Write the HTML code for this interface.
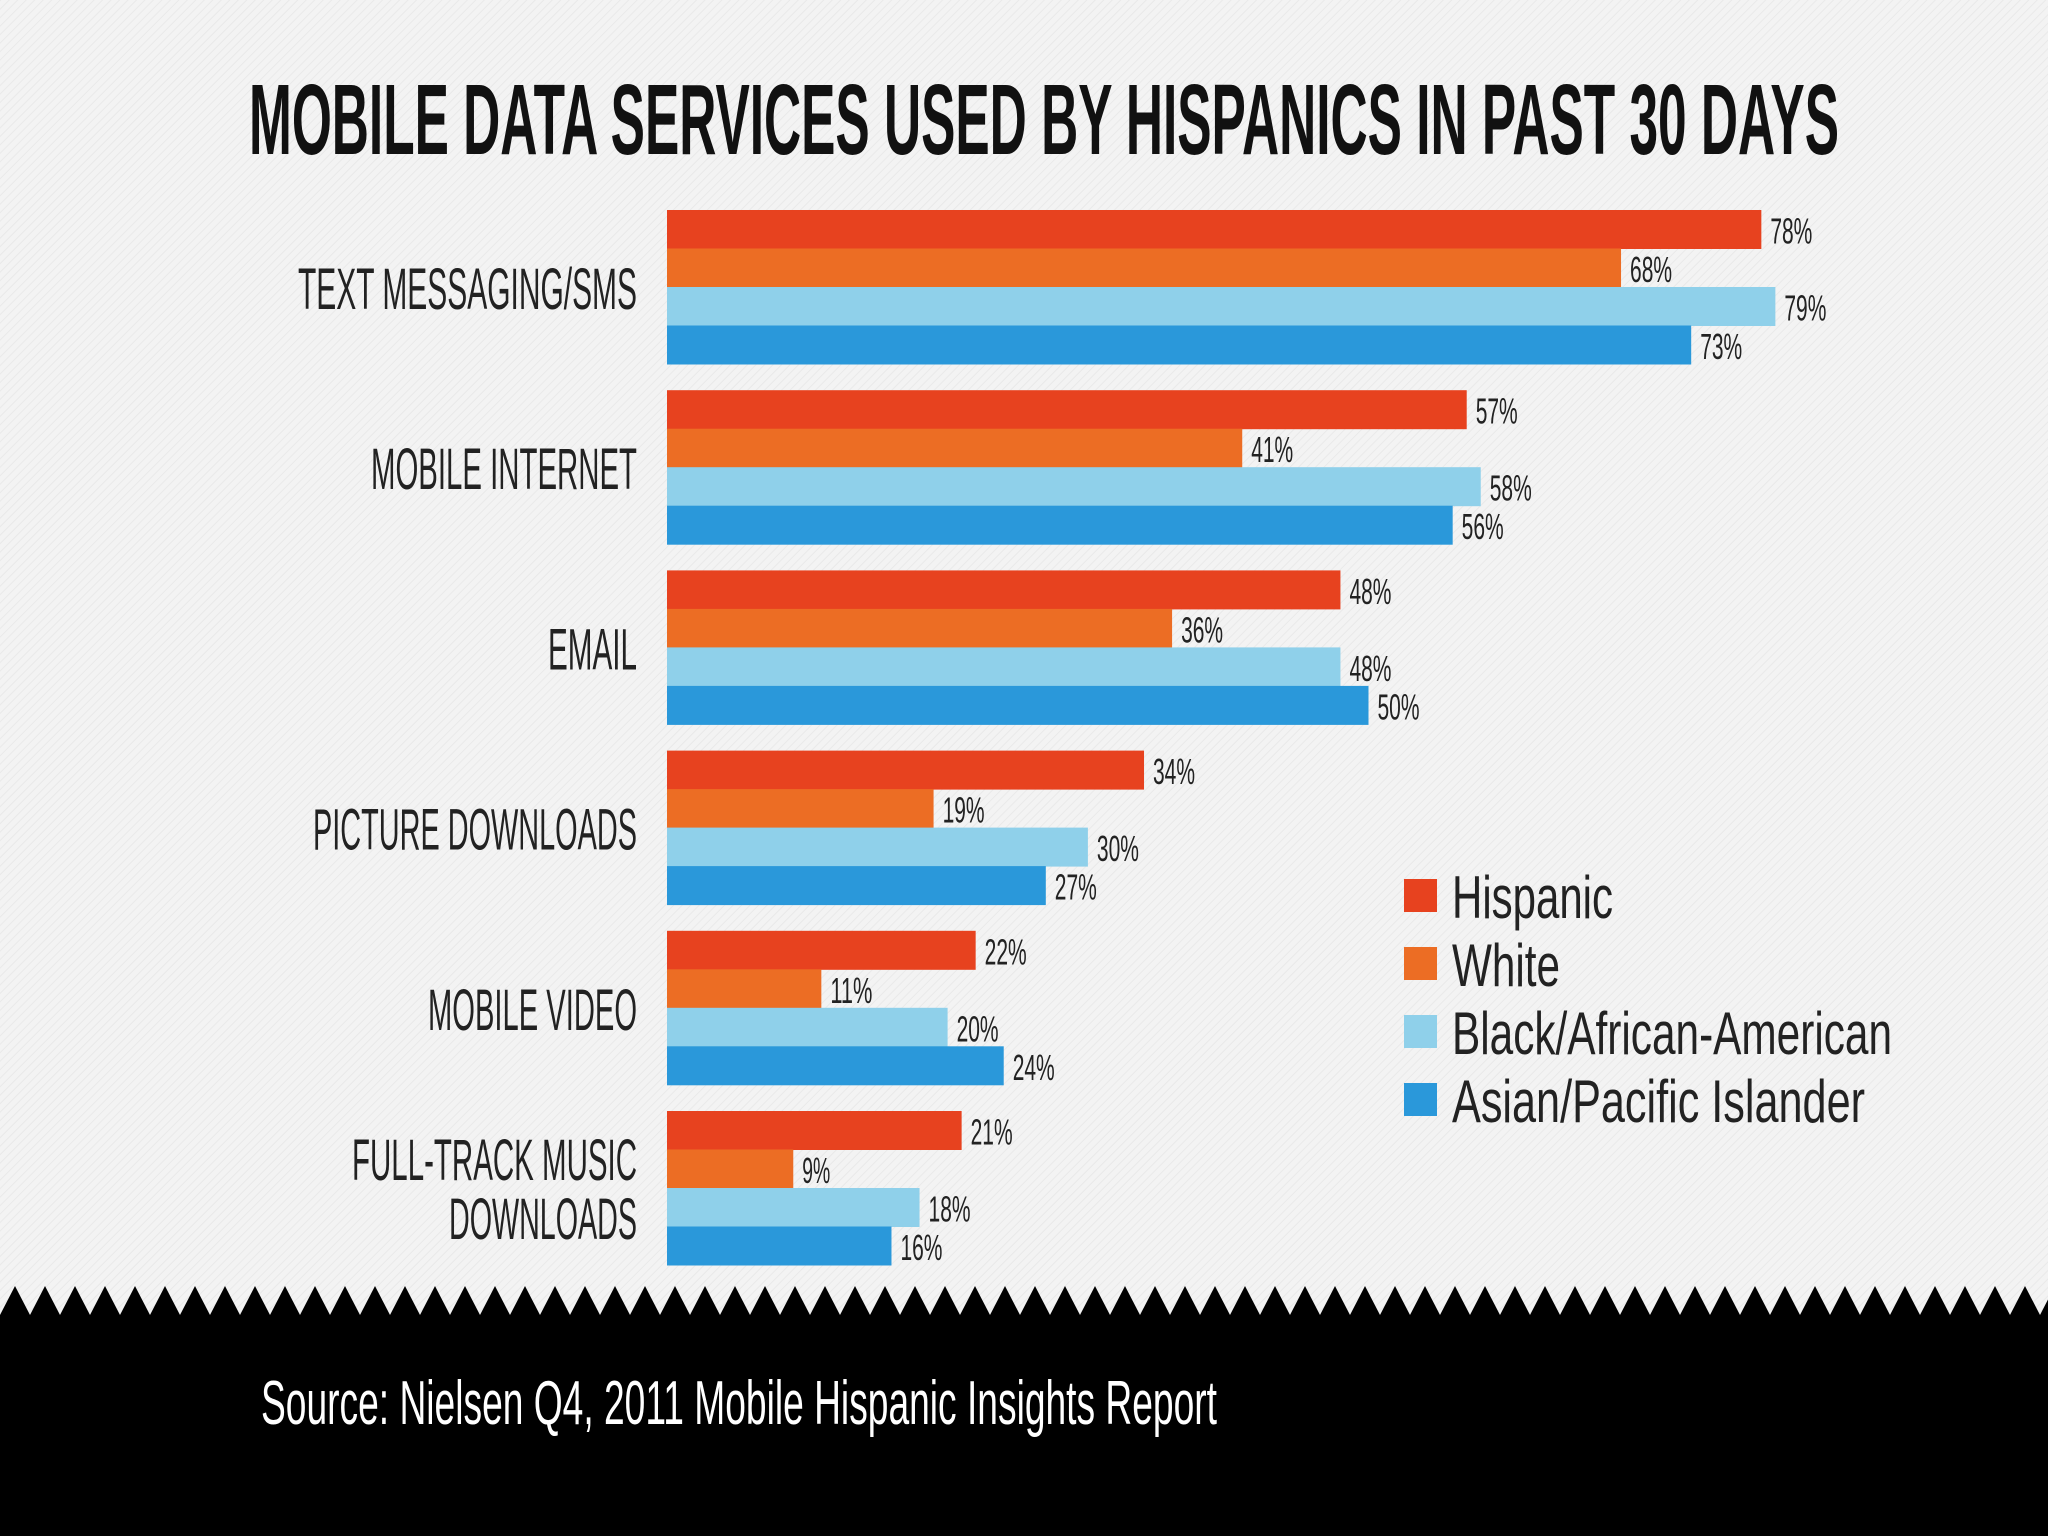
<!DOCTYPE html>
<html><head><meta charset="utf-8"><style>
html,body{margin:0;padding:0;background:#f1f1f1;}
svg{display:block;}
text{font-family:"Liberation Sans Narrow","Liberation Sans",sans-serif;}
</style></head><body>
<svg id="chart" width="2048" height="1536" viewBox="0 0 2048 1536" xmlns="http://www.w3.org/2000/svg">
<defs>
<pattern id="hatch" width="6" height="6" patternUnits="userSpaceOnUse" patternTransform="rotate(45)">
<rect width="6" height="6" fill="#f3f3f3"/><line x1="0" y1="0" x2="0" y2="6" stroke="#e9e9e9" stroke-width="2"/>
</pattern>
</defs>
<rect x="0" y="0" width="2048" height="1536" fill="url(#hatch)"/>
<text x="249" y="154" font-size="100" font-weight="bold" fill="#111" textLength="1590" lengthAdjust="spacingAndGlyphs">MOBILE DATA SERVICES USED BY HISPANICS IN PAST 30 DAYS</text>
<g id="bars"></g>
<g id="labels"></g>
<g id="legend"></g>
<path id="footer" fill="#000"/>
<text x="261" y="1424" font-size="62" fill="#fff" textLength="956" lengthAdjust="spacingAndGlyphs">Source: Nielsen Q4, 2011 Mobile Hispanic Insights Report</text>
</svg>
<script>
const categories = ["TEXT MESSAGING/SMS","MOBILE INTERNET","EMAIL","PICTURE DOWNLOADS","MOBILE VIDEO","FULL-TRACK MUSIC DOWNLOADS"];
const seriesNames = ["Hispanic","White","Black/African-American","Asian/Pacific Islander"];
const hispanic = [78,57,48,34,22,21];
const white = [68,41,36,19,11,9];
const black = [79,58,48,30,20,18];
const asian = [73,56,50,27,24,16];
const series = [hispanic, white, black, asian];
const colors = ["#e7421f","#ec6d24","#8fd0ea","#2a98da"];

const NS = "http://www.w3.org/2000/svg";
const x0 = 667, pxPerPct = 14.03;
const groupTop0 = 210, groupPitch = 180.2, barH = 38.5;
function xScale(v){ return x0 + v * pxPerPct; }
function groupY(i){ return groupTop0 + i * groupPitch; }
function mk(tag, attrs){ const e = document.createElementNS(NS, tag); for (const k in attrs) e.setAttribute(k, attrs[k]); return e; }

const bars = document.getElementById('bars');
categories.forEach((c, ci) => {
  series.forEach((s, si) => {
    const y = groupY(ci) + si * barH;
    const r = mk('rect', {x: x0, y: y, width: xScale(s[ci]) - x0, height: barH + 0.5, fill: colors[si]});
    
    
    bars.appendChild(r);
    const label = s[ci] + '%';
    const t = mk('text', {x: xScale(s[ci]) + 9, y: y + barH - 5, 'font-size': 36, fill: '#222', textLength: label.length * 14, lengthAdjust: 'spacingAndGlyphs'});
    t.textContent = label;
    
    
    bars.appendChild(t);
  });
});

const labelW = [339, 266, 89, 324, 209];
const labels = document.getElementById('labels');
categories.forEach((c, ci) => {
  const mid = groupY(ci) + 2 * barH;
  if (ci < 5) {
    const t = mk('text', {x: 637, y: mid + 22, 'font-size': 58, fill: '#222', 'text-anchor': 'end', textLength: labelW[ci], lengthAdjust: 'spacingAndGlyphs'});
    t.textContent = c;
    
    
    labels.appendChild(t);
  } else {
    const parts = ["FULL-TRACK MUSIC", "DOWNLOADS"], w = [285, 188];
    parts.forEach((p, pi) => {
      const t = mk('text', {x: 637, y: mid - 8 + pi * 59, 'font-size': 58, fill: '#222', 'text-anchor': 'end', textLength: w[pi], lengthAdjust: 'spacingAndGlyphs'});
      t.textContent = p;
      
      
      labels.appendChild(t);
    });
  }
});

const legW = [161, 108, 440, 413];
const legend = document.getElementById('legend');
seriesNames.forEach((n, i) => {
  const cy = 896 + i * 68;
  const r = mk('rect', {x: 1404, y: cy - 17, width: 33, height: 33, fill: colors[i]});
  
  
  legend.appendChild(r);
  const t = mk('text', {x: 1452, y: cy + 22, 'font-size': 60, fill: '#222', textLength: legW[i], lengthAdjust: 'spacingAndGlyphs'});
  t.textContent = n;
  
  
  legend.appendChild(t);
});

// zigzag footer
let d = 'M0,1315';
const period = 30, tip = 1286, base = 1315;
for (let x = 0; x < 2048 + period; x += period) {
  d += ' L' + (x + period / 2) + ',' + tip + ' L' + (x + period) + ',' + base;
}
d += ' L2048,1536 L0,1536 Z';
document.getElementById('footer').setAttribute('d', d);
</script>
</body></html>
